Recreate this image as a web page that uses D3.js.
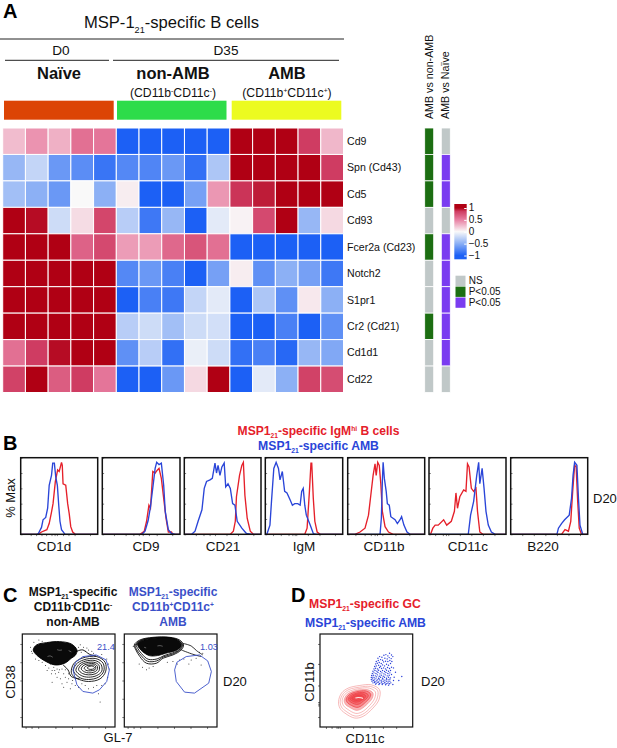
<!DOCTYPE html>
<html><head><meta charset="utf-8">
<script src="https://cdnjs.cloudflare.com/ajax/libs/d3/7.8.5/d3.min.js"></script>
<style>html,body{margin:0;padding:0;background:#fff}svg{display:block}text{font-family:"Liberation Sans",Arial,sans-serif}</style>
</head><body><svg id="c" width="617" height="748"></svg>
<script>
// ---------- Panel A data ----------
const genes = ["Cd9","Spn (Cd43)","Cd5","Cd93","Fcer2a (Cd23)","Notch2","S1pr1","Cr2 (Cd21)","Cd1d1","Cd22"];
const rowCd9   = [.25,.42,.3,.58,.55,-1,-1,-1,-1,-1,1,1,1,.85,.27];
const rowSpn   = [-.45,-.25,-.65,-.72,-.87,-.75,-.77,-.65,-.9,-.35,1,1,1,1,.85];
const rowCd5   = [-.4,-.5,-.65,0,-.5,.05,-1,-1,-.6,.4,.87,.93,1,1,1];
const rowCd93  = [1,.97,-.2,.12,.8,-.3,-.85,-.45,-1,-.1,.03,.78,1,-.45,.13];
const rowFcer  = [1,1,1,.65,.78,.38,.38,.62,.72,.58,-1,-1,-1,-1,-1];
const rowNotch = [1,1,1,1,1,-.75,-.65,-.8,-1,-.6,.05,-.7,-.5,-.6,-.85];
const rowS1pr1 = [1,1,1,1,1,-1,-.8,-.85,-.25,-.1,-1,-.35,-.7,.07,-.5];
const rowCr2   = [1,1,1,1,1,-.3,-.2,-.4,-.2,-.18,-1,-1,-.8,-1,-.7];
const rowCd1d1 = [.58,.85,.97,1,1,-.7,-.3,-.9,-.07,-.2,-.9,-.8,-.95,-.45,-.55];
const rowCd22  = [.82,1,.68,.85,.55,-1,-1,-.65,.13,1,-1,-.1,-.5,.82,.76];
const heatRows = [rowCd9,rowSpn,rowCd5,rowCd93,rowFcer,rowNotch,rowS1pr1,rowCr2,rowCd1d1,rowCd22];
const sigNonAmb = ["g","g","g","n","g","n","n","g","n","n"];
const sigNaive  = ["n","p","p","n","p","p","p","p","p","n"];
const legendItems = [["n","NS"],["g","P<0.05"],["p","P<0.05"]];
const colorTicks = [1,.5,0,-.5,-1];
const colorTickLabels = ["1","0.5","0","\u22120.5","\u22121"];

// ---------- Panel B data (x = % of channel range, y = % max) ----------
const histPanels = ["CD1d","CD9","CD21","IgM","CD11b","CD11c","B220"];
const redCd1d=[[23,0],[27,3],[34,6],[37,14],[40,29],[42,40],[45,69],[48,84],[50,82],[53,94],[54,90],[55,66],[58.5,64],[61,40],[63,27],[65,10],[67.5,3],[71,0]];
const blueCd1d=[[21,0],[23,1],[27,9],[29,19],[32.5,22],[35,34],[37,64],[40,77],[41.6,93],[43.7,93],[45.5,75],[47.6,64],[49.4,38],[51,17],[53,6],[57.6,0]];
const redCd9=[[48.5,0],[54,4],[57,17],[60,38],[62,34],[65,82],[68,80],[71,84],[73,86],[76,73],[79,47],[82,21],[85,3],[89,3],[91,0]];
const blueCd9=[[51,0],[55,4],[59,18],[62,36],[66,69],[68,86],[70,94],[73,91],[76,93],[79,64],[81,30],[85,6],[89,1],[94,0]];
const redCd21=[[60,0],[64,4],[66.5,17],[68,49],[72,77],[75,90],[77,94],[79,51],[82,21],[86,4],[90,0]];
const blueCd21=[[9.6,0],[14,4],[18,17],[23,32],[26,60],[29,69],[33.5,71],[36.5,73],[40,93],[42,80],[44,90],[46.5,77],[49,88],[52,93],[54,62],[57,66],[60,60],[63,40],[66,38],[69,17],[75,8],[81,1],[88,0]];
const redIgM=[[51,0],[54,8],[57,56],[59,93],[60,93],[62,47],[64,17],[67,3],[71,0]];
const blueIgM=[[2,0],[6,12],[8,43],[11,86],[14,94],[17,86],[19,71],[22,82],[25,56],[28,54],[32,45],[35,38],[38,40],[42,40],[45,38],[47,56],[49,60],[51,38],[53,25],[58,12],[62,1],[66,0]];
const redCd11b=[[9.5,0],[16,3],[22.5,8],[27,25],[30,51],[33,77],[35.5,92],[37,77],[39,94],[41,90],[43,66],[45,30],[48.5,10],[53,3],[59,0]];
const blueCd11b=[[42,0],[43.7,21],[45,69],[46,94],[47.6,73],[50,56],[51.5,40],[54,38],[56,23],[61.5,19],[64.5,14],[68,19],[70,23],[73,12],[77,3],[81,0]];
const redCd11c=[[2,0],[5,8],[8,12],[12,12],[19,19],[23,12],[29,17],[33,30],[35,54],[37,34],[40,49],[45,58],[48,56],[50,92],[52,88],[55,60],[58,56],[61,60],[63,30],[66,3],[70,0]];
const blueCd11c=[[51,0],[54,25],[58,43],[62,77],[64.5,94],[66,66],[69,86],[71.5,60],[74,30],[77,12],[81,3],[86,0]];
const redB220=[[66,0],[70.5,6],[75,4],[78,17],[80.5,56],[83,90],[85,88],[87,43],[89,8],[92,0]];
const blueB220=[[60,0],[62,8],[66,14],[70,19],[76,25],[79,47],[81,77],[83,94],[86,90],[88,47],[90,12],[93.5,0]];
const histRed=[redCd1d,redCd9,redCd21,redIgM,redCd11b,redCd11c,redB220];
const histBlue=[blueCd1d,blueCd9,blueCd21,blueIgM,blueCd11b,blueCd11c,blueB220];
const histXTicks=[[13,20,27,33,40,44,47,55,62,70,90],[15,30,40,47,52,60,70,90],[15,25,33,40,55,70,90],[10,20,30,35,38,40,55,70,90],[10,22,30,35,38,45,62,80],[8,18,22,25,40,55,70,85],[15,30,45,60,75,90]];
const histYTicks=[0,20,40,60,80,100];

// ---------- Panel C data (channel units 0-280) ----------
const gateNon=[[153,172],[161,195],[183,212],[223,217],[253,202],[263,172],[255,137],[233,112],[213,102],[183,107],[165,127]];
const gateAmb=[[152,172],[159,195],[187,212],[227,217],[252,199],[263,167],[255,132],[212,102],[182,105],[157,137]];
const nonBlob=[[33,232],[43,247],[73,254],[113,257],[148,250],[165,232],[161,217],[148,207],[128,192],[98,187],[63,202],[43,217]];
const nonFlecks=[[[76,212],[84,214],[92,210]],[[105,233],[112,231],[120,232]],[[140,230],[148,226]]];
const nonTailA=[[123,187],[138,172],[148,152],[173,145]];
const nonTailB=[[148,217],[165,228],[183,232],[203,219],[223,214]];
const nonRings=[
 [[148,165],[155,190],[180,207],[225,212],[250,195],[252,168],[235,145],[200,137],[172,143],[155,152]],
 [[155,168],[162,188],[185,202],[222,206],[244,192],[246,168],[230,150],[200,143],[175,148]],
 [[162,170],[170,187],[190,198],[220,200],[238,188],[240,168],[225,155],[200,150],[178,155]],
 [[170,173],[178,187],[195,194],[220,194],[232,185],[232,170],[220,160],[200,157],[182,161]],
 [[178,175],[186,186],[200,190],[218,190],[227,182],[226,172],[216,165],[200,163],[188,166]],
 [[187,177],[194,184],[205,186],[218,186],[222,180],[220,173],[212,170],[200,169],[192,171]],
 [[196,178],[204,183],[214,183],[218,178],[212,174],[202,174]]];
const nonDots=[[35,255],[50,262],[60,258],[25,240],[30,222],[28,228],[170,240],[175,248],[185,240],[195,238],[200,232],[178,225],[190,228],[210,228],[215,222],[240,218],[255,205],[260,190],[262,175],[258,150],[250,130],[240,125],[225,125],[215,120],[60,195],[70,185],[80,178],[90,170],[95,180],[100,160],[105,150],[110,165],[115,145],[120,175],[125,160],[130,150],[135,135],[140,145],[150,130],[160,125],[170,120],[180,130],[190,125],[105,175],[85,190],[75,170],[120,130],[235,75],[200,115],[55,215],[40,205],[50,200],[90,135],[230,100],[145,115],[125,120],[112,172],[98,170],[88,160],[130,172],[140,160],[152,140]];
const ambBlob=[[40,250],[60,262],[100,268],[140,268],[165,258],[172,245],[160,232],[125,222],[100,215],[75,215],[50,232]];
const ambRings=[
 [[30,247],[47,262],[87,270],[137,270],[167,262],[179,247],[172,232],[147,217],[117,207],[97,192],[67,192],[47,212],[35,232]],
 [[33,246],[50,261],[90,269],[137,269],[166,260],[176,246],[168,232],[147,220],[118,211],[98,199],[70,198],[50,216],[38,232]],
 [[36,247],[54,261],[94,268],[138,268],[165,259],[174,246],[165,232],[146,223],[120,215],[99,205],[72,204],[52,221],[41,236]]];
const ambFlecks=[[[100,244],[108,245],[116,243]],[[60,240],[66,238]]];
const ambTailA=[[176,252],[202,244],[218,230],[237,217]];
const ambTailB=[[172,232],[207,219],[232,212]];
const ambDots=[[27,242],[67,172],[87,182],[167,202],[217,207],[232,187],[202,202],[227,225],[237,222],[147,197],[45,190],[55,180],[75,178],[130,195],[180,205],[195,190],[160,190]];
const cXTicks=[10,28,48,100,150,200,250];
const cYTicks=[30,85,140,195,250];

// ---------- Panel D data (channel units 0-280) ----------
const gcRings=[
 [[56,77],[65,102],[85,117],[120,125],[155,127],[180,112],[178,82],[160,57],[130,32],[105,27],[75,42],[60,57]],
 [[61,78],[70,100],[88,113],[120,120],[152,122],[174,110],[172,84],[155,60],[128,38],[106,33],[79,47],[65,60]],
 [[67,80],[75,98],[92,109],[120,116],[149,117],[167,106],[165,86],[150,65],[126,45],[108,41],[84,53],[71,64]],
 [[73,81],[81,97],[96,106],[120,112],[145,112],[160,102],[158,87],[144,70],[124,54],[110,50],[90,59],[77,68]],
 [[79,83],[86,95],[100,103],[120,108],[141,108],[153,99],[150,88],[138,75],[122,62],[111,59],[95,65],[84,72]],
 [[85,84],[92,94],[104,100],[120,104],[136,103],[146,96],[142,87],[131,78],[120,70],[110,68],[98,72],[90,77]],
 [[90,85],[98,93],[108,98],[120,100],[131,99],[138,93],[134,86],[125,80],[116,76],[106,75],[98,78]],
 [[96,86],[104,92],[114,95],[124,95],[132,90],[127,84],[118,81],[108,80],[101,82]]];
const gcFleck=[[107,87],[115,89],[124,88],[130,86]];
const ambD=[[175,207],[180,212],[187,210],[193,216],[199,218],[205,214],[210,222],[216,217],[170,197],[176,200],[183,203],[189,201],[196,207],[203,205],[209,209],[215,206],[220,212],[168,190],[173,192],[179,194],[185,191],[192,196],[198,198],[205,197],[211,200],[217,197],[165,182],[170,184],[177,186],[183,183],[189,187],[195,184],[201,189],[207,186],[213,191],[163,175],[168,177],[174,175],[180,179],[186,176],[192,178],[198,175],[204,179],[210,176],[216,180],[160,168],[166,170],[172,168],[177,171],[183,167],[189,170],[195,167],[201,171],[207,168],[213,170],[158,161],[163,163],[169,161],[175,164],[181,160],[187,163],[193,160],[199,164],[205,161],[211,163],[222,178],[156,155],[161,156],[167,154],[173,157],[179,153],[185,156],[191,153],[197,157],[203,154],[209,156],[216,158],[155,149],[160,150],[165,148],[171,151],[177,147],[183,150],[189,147],[195,150],[201,147],[207,150],[213,148],[155,143],[159,145],[164,142],[169,145],[174,142],[179,144],[185,141],[190,144],[196,141],[201,144],[206,142],[211,144],[157,138],[161,140],[166,137],[171,139],[176,136],[181,139],[186,136],[191,138],[196,135],[201,138],[206,136],[211,138],[160,133],[165,134],[170,132],[175,134],[180,131],[185,133],[190,131],[195,133],[200,130],[205,132],[210,130],[214,133],[168,129],[178,128],[188,128],[198,127],[207,126],[220,128],[224,150],[228,165],[247,152],[238,140],[222,140]];
const dXTicks=[18,35,50,55,60,100,150,190,230];
const dYTicks=[30,65,70,75,125,190,250];

// ---------- Drawing ----------
const svg=d3.select("#c");
const BLUE="#2a45d8",RED="#e5202a",TXTBLUE="#3a50c8";
const sigColor={g:"#1c6e12",p:"#7a3cf0",n:"#c0c8c8"};

function rich(x,y,size,parts,opt={}){
  const t=svg.append("text").attr("x",x).attr("y",y).attr("font-size",size)
    .attr("text-anchor",opt.anchor||"middle").attr("fill",opt.fill||"#111").attr("font-weight",opt.weight||"normal");
  if(opt.rotate!==undefined) t.attr("transform",`rotate(${opt.rotate} ${x} ${y})`);
  let pending=0;
  parts.forEach(p=>{
    const sp=t.append("tspan");
    if(typeof p==="string"){
      sp.text(p); if(pending){sp.attr("dy",pending);pending=0;}
    } else {
      const d=p.sub?size*0.28:-size*0.32;
      sp.attr("font-size",size*0.55).attr("dy",d+pending).text(p.t);
      pending=-d;
    }
  });
  return t;
}
// Panel letters
[["A",3,18],["B",3,450],["C",3,602],["D",291,602]].forEach(d=>rich(d[1],d[2],20,[d[0]],{anchor:"start",weight:"bold",fill:"#000"}));

// Panel A headers
rich(171.5,28,16.6,["MSP-1",{t:"21",sub:1},"-specific B cells"]);
const hline=(x1,x2,y,w)=>svg.append("line").attr("x1",x1).attr("x2",x2).attr("y1",y).attr("y2",y).attr("stroke","#222").attr("stroke-width",w);
hline(0,344,39,1);hline(5,109,60.3,1);hline(113,339,60.3,1);
rich(61,55,13.6,["D0"]);rich(226,55,13.6,["D35"]);
rich(59,79,16.5,["Na\u00efve"],{weight:"bold"});rich(173,79,16.5,["non-AMB"],{weight:"bold"});rich(287,79,16.5,["AMB"],{weight:"bold"});
rich(173,96.5,12.2,["(CD11b",{t:"-"},"CD11c",{t:"-"},")"]);
rich(287,96.5,12.2,["(CD11b",{t:"+"},"CD11c",{t:"+"},")"]);
[[4,113.7,"#dc4405"],[117,226.5,"#2ddc4a"],[231.7,341.3,"#ecfb20"]].forEach(b=>svg.append("rect").attr("x",b[0]).attr("y",100.7).attr("width",b[1]-b[0]).attr("height",19).attr("fill",b[2]));

// Heatmap
const colX=d3.scaleBand().domain(d3.range(15)).range([2.7,343.5]);
const rowY=d3.scaleBand().domain(genes).range([128,392.5]);
const col=d3.scaleLinear().domain([-1,-.5,0,.5,.85,1]).range(["#1c60f5","#8cb0f5","#f9f9f9","#e87fa2","#cf3c62","#b00014"]).clamp(true);
heatRows.forEach((r,i)=>{
  svg.append("g").selectAll("rect").data(r).join("rect")
   .attr("x",(d,j)=>colX(j)).attr("y",rowY(genes[i])).attr("width",colX.bandwidth()).attr("height",rowY.bandwidth())
   .attr("fill",d=>col(d)).attr("stroke","#fff").attr("stroke-width",1);
});
genes.forEach(g=>rich(347,rowY(g)+rowY.bandwidth()/2+3.6,10.6,[g],{anchor:"start"}));
// Significance columns
[[sigNonAmb,424.7,"AMB vs non-AMB"],[sigNaive,441.3,"AMB vs Na\u00efve"]].forEach(s=>{
  svg.append("g").selectAll("rect").data(s[0]).join("rect")
   .attr("x",s[1]).attr("y",(d,i)=>rowY(genes[i])).attr("width",9).attr("height",rowY.bandwidth())
   .attr("fill",d=>sigColor[d]).attr("stroke","#fff").attr("stroke-width",.8);
  rich(s[1]+8,119,10.7,[s[2]],{anchor:"start",rotate:-90});
});
// Colour bar
const cbY=d3.scaleLinear().domain([1,-1]).range([208,255.5]);
const grad=svg.append("defs").append("linearGradient").attr("id","cb").attr("x1",0).attr("x2",0).attr("y1",0).attr("y2",1);
[1,.85,.5,0,-.5,-1].forEach(v=>grad.append("stop").attr("offset",(cbY(v)-208)/47.5*0.86+0.07).attr("stop-color",col(v)));
svg.append("rect").attr("x",454.3).attr("y",204).attr("width",12.4).attr("height",55.3).attr("fill","url(#cb)");
const cbAxis=svg.append("g").attr("transform","translate(466.7,0)").call(d3.axisLeft(cbY).tickValues(colorTicks).tickSize(2.5).tickFormat(""));
cbAxis.select(".domain").remove();cbAxis.selectAll("line").attr("stroke","#fff");
colorTicks.forEach((v,i)=>rich(468.7,cbY(v)+3.4,10,[colorTickLabels[i]],{anchor:"start"}));
legendItems.forEach((l,i)=>{
  svg.append("rect").attr("x",455.5).attr("y",275.7+i*10.9).attr("width",10).attr("height",10.3).attr("fill",sigColor[l[0]]);
  rich(468.7,284.3+i*10.9,10,[l[1]],{anchor:"start"});
});

// Panel B
rich(318.5,435,12.1,["MSP1",{t:"21",sub:1},"-specific IgM",{t:"hi"}," B cells"],{weight:"bold",fill:RED});
rich(318.5,450,12.2,["MSP1",{t:"21",sub:1},"-specific AMB"],{weight:"bold",fill:BLUE});
const histFrames=[[20.7,97.7],[102.3,180],[184.3,261],[265.3,342.7],[347.7,424.7],[429,506],[510.7,587.7]];
const histCenters=[54,146,223,304,384,468,543];
const yH=d3.scaleLinear().domain([0,100]).range([534.3,457.7]);
const lineFn=x=>d3.line().x(d=>x(d[0])).y(d=>yH(d[1]));
histPanels.forEach((name,i)=>{
  const [l,r]=histFrames[i];
  const x=d3.scaleLinear().domain([0,100]).range([l,r]);
  [[histRed[i],RED],[histBlue[i],BLUE]].forEach(s=>{
    svg.append("path").attr("d",lineFn(x)([[0,0],...s[0],[100,0]])).attr("fill","none").attr("stroke",s[1]).attr("stroke-width",1.35);
  });
  svg.append("g").attr("transform",`translate(0,534.3)`).call(d3.axisBottom(x).tickValues(histXTicks[i]).tickSize(1.8).tickFormat("")).call(g=>g.select(".domain").remove()).selectAll("line").attr("stroke","#222").attr("stroke-width",.6);
  svg.append("g").attr("transform",`translate(${l},0)`).call(d3.axisRight(yH).tickValues(histYTicks).tickSize(1.8).tickFormat("")).call(g=>g.select(".domain").remove()).selectAll("line").attr("stroke","#222").attr("stroke-width",.6);
  svg.append("rect").attr("x",l).attr("y",457.7).attr("width",r-l).attr("height",76.6).attr("fill","none").attr("stroke","#111").attr("stroke-width",1.5);
  rich(histCenters[i],551,13.5,[name]);
});
rich(15,498,13,["% Max"],{rotate:-90});
rich(593,502.5,13,["D20"],{anchor:"start"});

// Panel C
[["#111",73,["CD11b",{t:"-"},"CD11c",{t:"-"}],"non-AMB"],[TXTBLUE,173,["CD11b",{t:"+"},"CD11c",{t:"+"}],"AMB"]].forEach(h=>{
  rich(h[1],596,12,["MSP1",{t:"21",sub:1},"-specific"],{weight:"bold",fill:h[0]});
  rich(h[1],610.5,12,h[2],{weight:"bold",fill:h[0]});
  rich(h[1],625.5,12,[h[3]],{weight:"bold",fill:h[0]});
});
const yC=d3.scaleLinear().domain([0,280]).range([727,634]);
const closed=(x,y)=>d3.line().x(d=>x(d[0])).y(d=>y(d[1])).curve(d3.curveCatmullRomClosed.alpha(.5));
const open=(x,y)=>d3.line().x(d=>x(d[0])).y(d=>y(d[1])).curve(d3.curveCatmullRom.alpha(.5));
function flowFrame(l,r,yS,xT,yT,x){
  svg.append("g").attr("transform",`translate(0,${yS.range()[0]})`).call(d3.axisBottom(x).tickValues(xT).tickSize(2).tickFormat("")).call(g=>g.select(".domain").remove()).selectAll("line").attr("stroke","#222").attr("stroke-width",.6);
  svg.append("g").attr("transform",`translate(${l},0)`).call(d3.axisLeft(yS).tickValues(yT).tickSize(2).tickFormat("")).call(g=>g.select(".domain").remove()).selectAll("line").attr("stroke","#222").attr("stroke-width",.6);
  svg.append("rect").attr("x",l).attr("y",yS.range()[1]).attr("width",r-l).attr("height",yS.range()[0]-yS.range()[1]).attr("fill","none").attr("stroke","#111").attr("stroke-width",1.2);
}
function dots(data,x,y,c,rr){svg.append("g").selectAll("circle").data(data).join("circle").attr("cx",d=>x(d[0])).attr("cy",d=>y(d[1])).attr("r",rr).attr("fill",c);}
function ring(data,x,y,c,w,fill){svg.append("path").attr("d",closed(x,y)(data)).attr("fill",fill||"none").attr("stroke",c).attr("stroke-width",w);}
function tail(data,x,y,c,w){svg.append("path").attr("d",open(x,y)(data)).attr("fill","none").attr("stroke",c).attr("stroke-width",w);}
// non-AMB
const xC1=d3.scaleLinear().domain([0,280]).range([22.3,115]);
dots(nonDots,xC1,yC,"#222",.5);
ring(nonBlob,xC1,yC,"#000",.9,"#0a0a0a");
nonFlecks.forEach(f=>tail(f,xC1,yC,"#ddd",.4));
tail(nonTailA,xC1,yC,"#000",.9);tail(nonTailB,xC1,yC,"#000",.9);
nonRings.forEach(r=>ring(r,xC1,yC,"#000",.85));
svg.append("path").attr("d",d3.line().x(d=>xC1(d[0])).y(d=>yC(d[1])).curve(d3.curveLinearClosed)(gateNon)).attr("fill","none").attr("stroke",TXTBLUE).attr("stroke-width",.9);
flowFrame(22.3,115,yC,cXTicks,cYTicks,xC1);
rich(97,650,9.2,["21.4"],{anchor:"start",fill:TXTBLUE});
// AMB
const xC2=d3.scaleLinear().domain([0,280]).range([124.3,217]);
dots(ambDots,xC2,yC,"#222",.5);
ambRings.forEach(r=>ring(r,xC2,yC,"#000",.85));
ring(ambBlob,xC2,yC,"#000",.8,"#0a0a0a");
ambFlecks.forEach(f=>tail(f,xC2,yC,"#ddd",.4));
tail(ambTailA,xC2,yC,"#000",.8);tail(ambTailB,xC2,yC,"#000",.8);
svg.append("path").attr("d",d3.line().x(d=>xC2(d[0])).y(d=>yC(d[1])).curve(d3.curveLinearClosed)(gateAmb)).attr("fill","none").attr("stroke",TXTBLUE).attr("stroke-width",.9);
flowFrame(124.3,217,yC,cXTicks,cYTicks,xC2);
rich(200,650,9.2,["1.03"],{anchor:"start",fill:TXTBLUE});
rich(15,682,13,["CD38"],{rotate:-90});
rich(118,742,13,["GL-7"]);
rich(223,686,13,["D20"],{anchor:"start"});

// Panel D
rich(365,608,12.2,["MSP1",{t:"21",sub:1},"-specific GC"],{weight:"bold",fill:RED});
rich(365.5,627,12.2,["MSP1",{t:"21",sub:1},"-specific AMB"],{weight:"bold",fill:BLUE});
const xD=d3.scaleLinear().domain([0,280]).range([320,412.7]);
const yD=d3.scaleLinear().domain([0,280]).range([727,634]);
gcRings.forEach((r,i)=>ring(r,xD,yD,i>3?"#ee3a40":"#f08080",i>3?.7:.55,i>2?"rgba(240,60,66,.38)":"none"));
tail(gcFleck,xD,yD,"#ffe8e8",1.1);
dots(ambD,xD,yD,"#2a3fd8",.7);
flowFrame(320,412.7,yD,dXTicks,dYTicks,xD);
rich(365,743,13,["CD11c"]);
rich(314,682,13,["CD11b"],{rotate:-90});
rich(421,686,13,["D20"],{anchor:"start"});
</script></body></html>
